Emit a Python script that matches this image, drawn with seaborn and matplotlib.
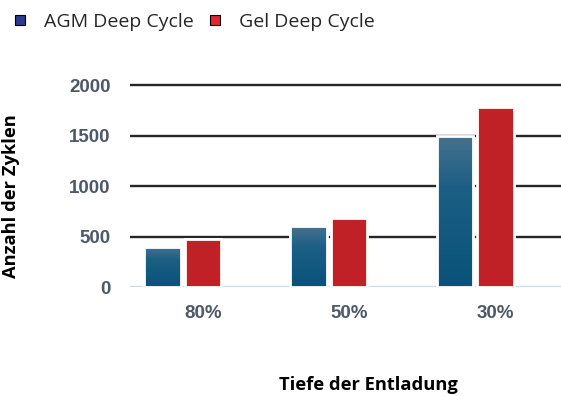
import numpy as np
import pandas as pd
import matplotlib
matplotlib.use("Agg")
import matplotlib.pyplot as plt
from matplotlib.colors import LinearSegmentedColormap
from matplotlib.lines import Line2D
from matplotlib.transforms import ScaledTranslation
import seaborn as sns

# Cycle life of deep-cycle batteries by depth of discharge
depth = ["80%", "50%", "30%"]
agm_cycles = [400, 600, 1500]
gel_cycles = [480, 680, 1780]
series = ["AGM Deep Cycle", "Gel Deep Cycle"]
y_ticks = [0, 500, 1000, 1500, 2000]

df = pd.DataFrame({
    "Tiefe": depth * 2,
    "Zyklen": agm_cycles + gel_cycles,
    "Typ": [series[0]] * len(depth) + [series[1]] * len(depth),
})

sns.set_theme(style="white")
plt.rcParams["font.family"] = ["Open Sans", "DejaVu Sans"]

fig = plt.figure(figsize=(5.61, 3.96), dpi=100)
ax = fig.add_axes([0.2317, 1 - 287 / 396, 1 - 0.2317, (287 - 80) / 396])

bar_colors = {series[0]: "#16597f", series[1]: "#c02127"}
sns.barplot(data=df, x="Tiefe", y="Zyklen", hue="Typ", order=depth,
            hue_order=series, palette=bar_colors, saturation=1,
            width=0.554, gap=0.1, edgecolor="white", linewidth=2.0,
            legend=False, ax=ax, zorder=3)

# vertical gradient on the AGM bars
blue_grad = LinearSegmentedColormap.from_list(
    "agm", ["#0a5277", "#12587f", "#1d5f84", "#46728f"])
grad = np.linspace(0, 1, 256).reshape(-1, 1)
for p in ax.containers[0]:
    x0, y0, w, h = p.get_x(), p.get_y(), p.get_width(), p.get_height()
    im = ax.imshow(grad, extent=[x0, x0 + w, y0, y0 + h], origin="lower",
                   aspect="auto", cmap=blue_grad, zorder=3.1,
                   interpolation="bicubic")
    im.set_clip_path(p)
    p.set_facecolor("none")
    p.set_zorder(3.2)

ax.set_xlim(-0.361, 2.588)
ax.set_ylim(0, 2050)
ax.set_yticks(y_ticks)
ax.set_yticklabels([str(v) for v in y_ticks])

ax.yaxis.grid(True, color="#262626", linewidth=1.7)
ax.xaxis.grid(False)
ax.get_ygridlines()[0].set_color("#c9dbef")
ax.set_axisbelow(True)
for s in ax.spines.values():
    s.set_visible(False)

tick_kw = dict(family="Liberation Sans", weight="bold", size=13.5, color="#4d5868")
ax.tick_params(axis="both", length=0)
ax.tick_params(axis="y", pad=14)
ax.tick_params(axis="x", pad=13)
for lab in ax.get_yticklabels():
    lab.set(**tick_kw)
for lab in ax.get_xticklabels():
    lab.set(**tick_kw)
    lab.set_transform(lab.get_transform() + ScaledTranslation(0.2, 0, fig.dpi_scale_trans))

ax.set_xlabel("Tiefe der Entladung", fontsize=13.2, fontweight="bold", color="black")
ax.set_ylabel("Anzahl der Zyklen", fontsize=13.2, fontweight="bold", color="black")
ax.xaxis.set_label_coords((368 - 130) / 431, (287 - 385) / 207)
ax.yaxis.set_label_coords((11 - 130) / 431, (287 - 196) / 207)
ax.xaxis.label.set_va("center")
ax.yaxis.label.set_va("center")

handles = [
    Line2D([], [], marker="s", linestyle="", markersize=7, markerfacecolor="#2d3b8e",
           markeredgecolor="black", markeredgewidth=0.8),
    Line2D([], [], marker="s", linestyle="", markersize=7, markerfacecolor="#e3262d",
           markeredgecolor="black", markeredgewidth=0.8),
]
fig.legend(handles, series, loc="center left", bbox_to_anchor=(-0.006, 1 - 22 / 396),
           ncol=2, frameon=False, fontsize=14, handlelength=1.0,
           handletextpad=0.72, columnspacing=0.62, borderaxespad=0.3)

fig.savefig("out.png", dpi=100)
